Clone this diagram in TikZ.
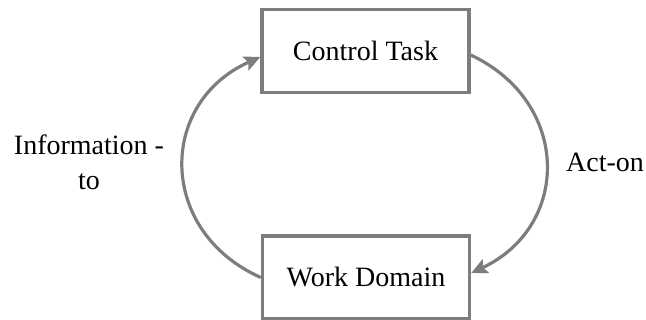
\documentclass[tikz,border=0pt]{standalone}
\usepackage{fontspec}
\setmainfont{Liberation Serif}
\usetikzlibrary{arrows.meta}
\definecolor{linegray}{RGB}{125,125,125}
\begin{document}
\begin{tikzpicture}[x=1pt,y=1pt,
  box/.style={draw=linegray, line width=3.5pt, fill=white, minimum width=207pt, minimum height=83pt, inner sep=0pt, font=\fontsize{28}{34}\selectfont},
  lbl/.style={font=\fontsize{28}{35}\selectfont, align=center, inner sep=0pt},
  flow/.style={draw=linegray, line width=3.2pt, -{Stealth[length=16pt,width=15pt,inset=3pt]}}]
  \useasboundingbox (0,0) rectangle (646,320);
  % the two boxes
  \node[box] (ct) at (365.5,269) {Control Task};
  \node[box] (wd) at (366,42.5) {Work Domain};
  % cycle arcs
  \draw[flow] ([yshift=-4pt]ct.east) .. controls +(100,-47) and +(100,47) .. ([yshift=4.5pt]wd.east);
  \draw[flow] (wd.west) .. controls +(-103,46) and +(-103,-46) .. ([yshift=-6pt]ct.west);
  % arc labels
  \node[lbl, anchor=base] (info) at (89,130) {Information -\\to};
  \node[lbl, anchor=base] (act) at (605,148) {Act-on};
\end{tikzpicture}
\end{document}
